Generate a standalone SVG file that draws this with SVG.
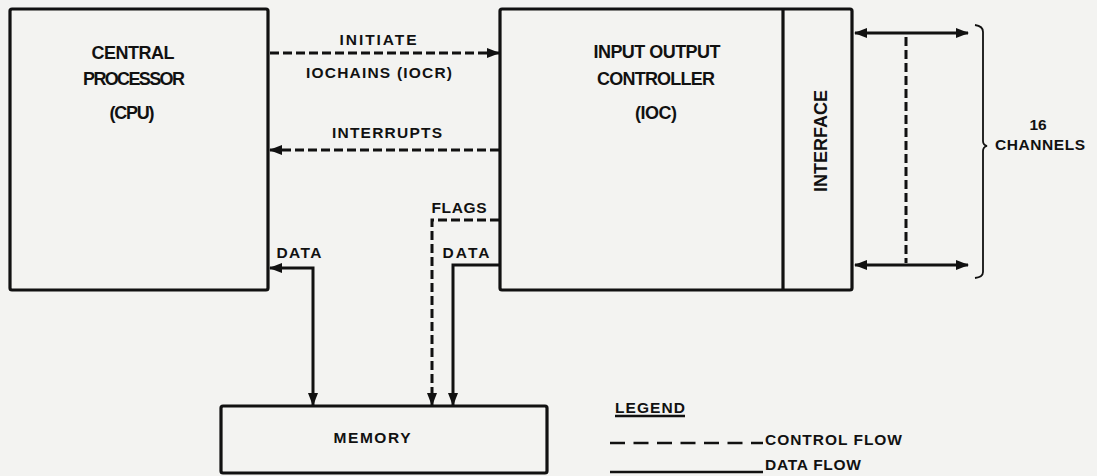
<svg xmlns="http://www.w3.org/2000/svg" width="1097" height="476" viewBox="0 0 1097 476">
<style>
  .box { fill: none; stroke: #111; stroke-width: 3.2; }
  .lbl { font-family: "Liberation Sans", Arial, sans-serif; font-weight: bold; fill: #111; }
  .big { font-size: 18px; }
  .sm { font-size: 15.5px; }
  .ln { fill: none; stroke: #111; stroke-width: 3; }
  .dash { stroke-dasharray: 9 4; }
  .thin { fill: none; stroke: #111; stroke-width: 1.8; }
</style>
<defs>
  <marker id="ah" markerUnits="userSpaceOnUse" markerWidth="13" markerHeight="10" refX="12" refY="5" orient="auto-start-reverse">
    <path d="M0,0 L13,5 L0,10 z" fill="#111"/>
  </marker>
</defs>
<rect width="1097" height="476" fill="#f3f3f1"/>

<g id="cpu">
  <rect class="box" x="10" y="9" width="258" height="281" rx="2"/>
  <text class="lbl big" x="133" y="59" text-anchor="middle" textLength="83">CENTRAL</text>
  <text class="lbl big" x="134" y="85" text-anchor="middle" textLength="102">PROCESSOR</text>
  <text class="lbl big" x="132" y="119" text-anchor="middle" textLength="45">(CPU)</text>
</g>

<g id="ioc">
  <rect class="box" x="500" y="9" width="352" height="281" rx="2"/>
  <line class="box" x1="783" y1="9" x2="783" y2="290"/>
  <text class="lbl big" x="657" y="58" text-anchor="middle" textLength="127">INPUT OUTPUT</text>
  <text class="lbl big" x="656" y="85" text-anchor="middle" textLength="118">CONTROLLER</text>
  <text class="lbl big" x="656" y="119" text-anchor="middle" textLength="42">(IOC)</text>
  <text class="lbl big" transform="translate(827,141) rotate(-90)" text-anchor="middle" textLength="102">INTERFACE</text>
</g>

<g id="memory">
  <rect class="box" x="221" y="406" width="326" height="67" rx="2"/>
  <text class="lbl sm" x="372" y="443" text-anchor="middle" textLength="77">MEMORY</text>
</g>

<g id="channels">
  <path class="thin" d="M975,25 Q983,26 983,32 V141 Q983,145 987,146 Q983,147 983,151 V272 Q983,277 975,278"/>
  <text class="lbl sm" x="1038" y="130" text-anchor="middle">16</text>
  <text class="lbl sm" x="1040" y="150" text-anchor="middle" textLength="90">CHANNELS</text>
</g>

<g id="connectors">
  <line class="ln dash" x1="270" y1="53" x2="499" y2="53" marker-end="url(#ah)"/>
  <text class="lbl sm" x="378" y="45" text-anchor="middle" textLength="77">INITIATE</text>
  <text class="lbl sm" x="379" y="78" text-anchor="middle" textLength="146">IOCHAINS (IOCR)</text>

  <line class="ln dash" x1="499" y1="150" x2="270" y2="150" marker-end="url(#ah)"/>
  <text class="lbl sm" x="387" y="138" text-anchor="middle" textLength="110">INTERRUPTS</text>

  <path class="ln" d="M313,405 V268 H270" marker-start="url(#ah)" marker-end="url(#ah)"/>
  <text class="lbl sm" x="299" y="258" text-anchor="middle" textLength="45">DATA</text>

  <path class="ln dash" d="M499,220 H432 V405" marker-end="url(#ah)"/>
  <text class="lbl sm" x="459" y="213" text-anchor="middle" textLength="55">FLAGS</text>

  <path class="ln" d="M499,265 H453 V405" marker-end="url(#ah)"/>
  <text class="lbl sm" x="466" y="258" text-anchor="middle" textLength="47">DATA</text>

  <line class="ln" x1="855" y1="33" x2="968" y2="33" marker-start="url(#ah)" marker-end="url(#ah)"/>
  <line class="ln" x1="855" y1="265" x2="968" y2="265" marker-start="url(#ah)" marker-end="url(#ah)"/>
  <line class="ln dash" x1="906" y1="37" x2="906" y2="263"/>
</g>

<g id="legend">
  <text class="lbl sm" x="615" y="413" textLength="70">LEGEND</text>
  <line x1="615" y1="416" x2="685" y2="416" stroke="#111" stroke-width="2.4"/>
  <line x1="610" y1="443" x2="763" y2="443" stroke="#111" stroke-width="2.4" stroke-dasharray="15 8.5"/>
  <text class="lbl sm" x="765" y="445" textLength="137">CONTROL FLOW</text>
  <line x1="610" y1="472" x2="763" y2="472" stroke="#111" stroke-width="2.4"/>
  <text class="lbl sm" x="765" y="470" textLength="96">DATA FLOW</text>
</g>
</svg>
